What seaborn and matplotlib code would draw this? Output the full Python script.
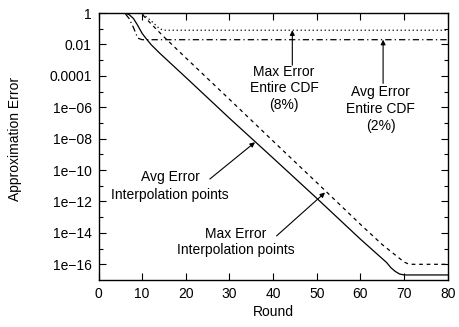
import numpy as np
import pandas as pd
import matplotlib
matplotlib.use("Agg")
import matplotlib.pyplot as plt
import seaborn as sns

# Approximation error per round for each measure
avg_interp_rounds = [0, 6, 7, 8, 9, 10, 11, 12, 14, 20, 30, 40, 50, 60, 66, 67, 68, 69, 70, 80]
avg_interp_error = [1.0, 1.0, 0.8, 0.45, 0.16, 0.05, 0.022, 0.01, 2.8e-3, 8e-5, 2e-7,
                    5.8e-10, 1.6e-12, 4e-15, 1.3e-16, 6e-17, 3.5e-17, 2.4e-17, 2.1e-17, 2.1e-17]

max_interp_rounds = [0, 9, 10, 12, 15, 20, 30, 40, 50, 60, 65, 70, 71, 72, 80]
max_interp_error = [1.0, 1.0, 0.83, 0.21, 0.03, 1.4e-3, 3.2e-6, 7e-9, 1.6e-11, 3.5e-14,
                    1.8e-15, 1.4e-16, 1.05e-16, 1e-16, 1e-16]

max_cdf_rounds = [0, 9, 10, 11, 12, 13, 14, 15, 80]
max_cdf_error = [1.0, 1.0, 0.9, 0.55, 0.33, 0.18, 0.1, 0.08, 0.08]

avg_cdf_rounds = [0, 6, 7, 8, 9, 10, 80]
avg_cdf_error = [1.0, 1.0, 0.45, 0.12, 0.025, 0.02, 0.02]

x_ticks = [0, 10, 20, 30, 40, 50, 60, 70, 80]
y_ticks = [1, 1e-2, 1e-4, 1e-6, 1e-8, 1e-10, 1e-12, 1e-14, 1e-16]
y_tick_labels = ["1", "0.01", "0.0001", "1e\u221206", "1e\u221208", "1e\u221210",
                 "1e\u221212", "1e\u221214", "1e\u221216"]

sns.set_style("ticks")
plt.rcParams["font.family"] = ["Liberation Sans", "DejaVu Sans"]
plt.rcParams["font.size"] = 10
plt.rcParams["xtick.direction"] = "in"
plt.rcParams["ytick.direction"] = "in"
for key in ["text.color", "axes.labelcolor", "xtick.color", "ytick.color", "axes.edgecolor"]:
    plt.rcParams[key] = "black"

fig = plt.figure(figsize=(4.59, 3.27), dpi=100)
ax = fig.add_axes([0.2146, 0.1437, 0.7608, 0.8165])

lw = 0.9
sns.lineplot(x=avg_interp_rounds, y=avg_interp_error, ax=ax, color="black",
             linewidth=lw, linestyle="-")
sns.lineplot(x=max_interp_rounds, y=max_interp_error, ax=ax, color="black",
             linewidth=lw, linestyle=(0, (3, 3)))
sns.lineplot(x=max_cdf_rounds, y=max_cdf_error, ax=ax, color="black",
             linewidth=lw, linestyle=(0, (1, 2.2)))
sns.lineplot(x=avg_cdf_rounds, y=avg_cdf_error, ax=ax, color="black",
             linewidth=lw, linestyle=(0, (5, 2.5, 1, 2.5)))

ax.set_yscale("log")
ax.set_xlim(0, 80)
ax.set_ylim(1e-17, 1)
ax.set_xticks(x_ticks)
ax.set_xticklabels([str(t) for t in x_ticks])
ax.set_yticks(y_ticks)
ax.set_yticklabels(y_tick_labels)
ax.yaxis.set_minor_locator(matplotlib.ticker.FixedLocator([10.0 ** -k for k in range(1, 17, 2)]))
ax.yaxis.set_minor_formatter(matplotlib.ticker.NullFormatter())
ax.xaxis.set_minor_locator(matplotlib.ticker.NullLocator())
ax.tick_params(which="major", length=5, width=0.8, top=True, right=True, pad=5,
               labelsize=10, colors="black")
ax.tick_params(which="minor", length=3, width=0.8, right=True, colors="black")
for s in ax.spines.values():
    s.set_linewidth(1.0)
    s.set_color("black")
    s.set_visible(True)

ax.set_xlabel("Round", fontsize=10, labelpad=3, color="black")
ax.set_ylabel("Approximation Error", fontsize=10, labelpad=10, color="black")
ax.yaxis.set_label_coords(-0.22, 0.53)

arrow = dict(arrowstyle="-|>", color="black", lw=0.8, mutation_scale=7,
             shrinkA=0, shrinkB=0)

ax.text(42.5, 10 ** -4.8, "Max Error\nEntire CDF\n(8%)", ha="center", va="center",
        fontsize=10, linespacing=1.25, color="black")
ax.annotate("", xy=(44.4, 0.08), xytext=(44.4, 10 ** -3.32), arrowprops=arrow)

ax.text(64.65, 10 ** -6.1, "Avg Error\nEntire CDF\n(2%)", ha="center", va="center",
        fontsize=10, linespacing=1.3, color="black")
ax.annotate("", xy=(65.2, 0.02), xytext=(65.2, 10 ** -4.48), arrowprops=arrow)

ax.text(16.4, 10 ** -11.0, "Avg Error\nInterpolation points", ha="center", va="center",
        fontsize=10, linespacing=1.35, color="black")
ax.annotate("", xy=(35.85, 10 ** -8.23), xytext=(25.5, 10 ** -10.57), arrowprops=arrow)

ax.text(31.4, 10 ** -14.58, "Max Error\nInterpolation points", ha="center", va="center",
        fontsize=10, linespacing=1.25, color="black")
ax.annotate("", xy=(51.9, 10 ** -11.43), xytext=(40.8, 10 ** -14.19), arrowprops=arrow)

fig.savefig("out.png", dpi=100)
